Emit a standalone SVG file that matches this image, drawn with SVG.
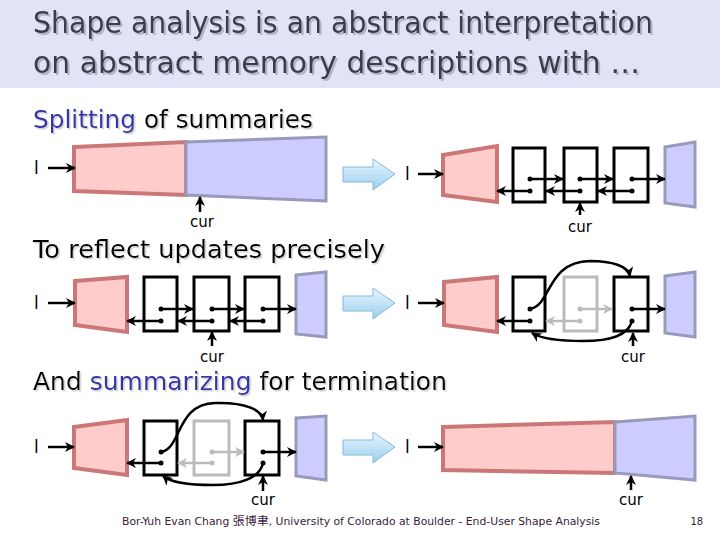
<svg xmlns="http://www.w3.org/2000/svg" width="720" height="540" viewBox="0 0 720 540">
<defs>
<style>
.pink{fill:#ffcccc;stroke:#cc7777;stroke-width:4;stroke-linejoin:miter}
.blue{fill:#ccccff;stroke:#9999bb;stroke-width:3;stroke-linejoin:miter}
.box{fill:none;stroke:#000;stroke-width:3}
.gbox{fill:none;stroke:#bbbbbb;stroke-width:3}
.c{fill:none;stroke:#000;stroke-width:2.5;marker-end:url(#ah)}
.g{fill:none;stroke:#bbbbbb;stroke-width:2.5;marker-end:url(#gh)}
.dot{fill:#000}
.gdot{fill:#bbbbbb}
.lbl{font-family:"DejaVu Sans",sans-serif;font-size:17px;fill:#000}
.cur{font-family:"DejaVu Sans",sans-serif;font-size:15px;fill:#000;text-anchor:middle}
.h{font-family:"DejaVu Sans","Liberation Sans",sans-serif;font-size:24px;fill:#000;filter:url(#hsh)}
.t{font-family:"DejaVu Sans","Liberation Sans",sans-serif;font-size:30px;fill:#3a3a4c;filter:url(#tsh)}
.kw{fill:#3636a6}
.big{fill:url(#bg);stroke:#86b9da;stroke-width:1}
</style>
<filter id="tsh" x="-5%" y="-30%" width="110%" height="160%"><feDropShadow dx="2" dy="2" stdDeviation="0.3" flood-color="#b4b4c6"/></filter>
<filter id="hsh" x="-5%" y="-30%" width="110%" height="160%"><feDropShadow dx="1.5" dy="1.5" stdDeviation="0.3" flood-color="#d0d0d0"/></filter>
<marker id="ah" viewBox="0 0 10 10" refX="9" refY="5" markerWidth="4" markerHeight="4" orient="auto"><path d="M0,0 L10,5 L0,10 L3,5 Z" fill="#000"/></marker>
<marker id="gh" viewBox="0 0 10 10" refX="9" refY="5" markerWidth="4" markerHeight="4" orient="auto"><path d="M0,0 L10,5 L0,10 L3,5 Z" fill="#bbbbbb"/></marker>
<linearGradient id="bg" x1="0" y1="0" x2="0" y2="1"><stop offset="0" stop-color="#e6f6ff"/><stop offset="1" stop-color="#9ccfee"/></linearGradient>
<path id="bigarrow" d="M343,167 L373,167 L373,159 L395,174 L373,190 L373,182 L343,182 Z"/>
</defs>
<rect width="720" height="540" fill="#ffffff"/>
<g id="title">
<rect x="0" y="0" width="720" height="88" fill="#e3e3f7"/>
<text class="t" x="33" y="33" textLength="620" lengthAdjust="spacingAndGlyphs">Shape analysis is an abstract interpretation</text>
<text class="t" x="33" y="73" textLength="607" lengthAdjust="spacingAndGlyphs">on abstract memory descriptions with …</text>
</g>
<g id="headings">
<text class="h" x="33" y="128" textLength="280" lengthAdjust="spacingAndGlyphs"><tspan class="kw">Splitting</tspan> of summaries</text>
<text class="h" x="33" y="258" textLength="352" lengthAdjust="spacingAndGlyphs">To reflect updates precisely</text>
<text class="h" x="33" y="390" textLength="414" lengthAdjust="spacingAndGlyphs">And <tspan class="kw">summarizing</tspan> for termination</text>
</g>

<!-- Row 1 left -->
<g id="r1l-l"><text class="lbl" x="34" y="174">l</text></g>
<g id="r1l-pink"><polygon class="pink" points="74,147 186,142 186,195 74,191"/></g>
<g id="r1l-blue"><polygon class="blue" points="186,142 326,137 326,201 186,195"/></g>
<g id="r1l-cur"><text class="cur" x="202" y="227">cur</text></g>
<g id="r1-bigarrow"><use href="#bigarrow" class="big"/></g>

<!-- Row 1 right -->
<g id="r1r-l"><text class="lbl" x="405" y="180">l</text></g>
<g id="r1r-pink"><polygon class="pink" points="443,155 497,146 497,202 443,195"/></g>
<g id="r1r-box1"><rect class="box" x="513" y="148" width="32" height="54"/><circle class="dot" cx="530" cy="179" r="2.5"/><circle class="dot" cx="530" cy="191" r="2.5"/></g>
<g id="r1r-box2"><rect class="box" x="564" y="148" width="33" height="54"/><circle class="dot" cx="580" cy="179" r="2.5"/><circle class="dot" cx="580" cy="191" r="2.5"/></g>
<g id="r1r-box3"><rect class="box" x="614" y="148" width="34" height="54"/><circle class="dot" cx="632" cy="179" r="2.5"/><circle class="dot" cx="632" cy="191" r="2.5"/></g>
<g id="r1r-blue"><polygon class="blue" points="665,147 695,142 695,207 665,203"/></g>
<g id="r1r-cur"><text class="cur" x="580" y="232">cur</text></g>

<!-- Row 2 left -->
<g id="r2l-l"><text class="lbl" x="34" y="309">l</text></g>
<g id="r2l-pink"><polygon class="pink" points="75,281 127,277 127,332 75,325"/></g>
<g id="r2l-box1"><rect class="box" x="144" y="277" width="33" height="54"/><circle class="dot" cx="161" cy="309" r="2.5"/><circle class="dot" cx="161" cy="321" r="2.5"/></g>
<g id="r2l-box2"><rect class="box" x="194" y="277" width="35" height="54"/><circle class="dot" cx="212" cy="309" r="2.5"/><circle class="dot" cx="212" cy="321" r="2.5"/></g>
<g id="r2l-box3"><rect class="box" x="245" y="277" width="34" height="54"/><circle class="dot" cx="263" cy="309" r="2.5"/><circle class="dot" cx="263" cy="321" r="2.5"/></g>
<g id="r2l-blue"><polygon class="blue" points="296,275 326,272 326,337 296,334"/></g>
<g id="r2l-cur"><text class="cur" x="212" y="362">cur</text></g>
<g id="r2-bigarrow"><use href="#bigarrow" class="big" transform="translate(0,129)"/></g>

<!-- Row 2 right -->
<g id="r2r-l"><text class="lbl" x="405" y="309">l</text></g>
<g id="r2r-pink"><polygon class="pink" points="444,282 497,277 497,332 444,325"/></g>
<g id="r2r-box1"><rect class="box" x="513" y="277" width="32" height="54"/><circle class="dot" cx="530" cy="309" r="2.5"/><circle class="dot" cx="530" cy="321" r="2.5"/></g>
<g id="r2r-box2"><rect class="gbox" x="564" y="277" width="33" height="54"/><circle class="gdot" cx="580" cy="309" r="2.5"/><circle class="gdot" cx="580" cy="321" r="2.5"/></g>
<g id="r2r-box3"><rect class="box" x="614" y="277" width="34" height="54"/><circle class="dot" cx="632" cy="309" r="2.5"/><circle class="dot" cx="632" cy="321" r="2.5"/></g>
<g id="r2r-blue"><polygon class="blue" points="665,276 695,272 695,337 665,333"/></g>
<g id="r2r-cur"><text class="cur" x="633" y="362">cur</text></g>

<!-- Row 3 left -->
<g id="r3l-l"><text class="lbl" x="34" y="453">l</text></g>
<g id="r3l-pink"><polygon class="pink" points="74,427 127,420 127,475 74,468"/></g>
<g id="r3l-box1"><rect class="box" x="144" y="421" width="33" height="54"/><circle class="dot" cx="161" cy="452" r="2.5"/><circle class="dot" cx="161" cy="463" r="2.5"/></g>
<g id="r3l-box2"><rect class="gbox" x="194" y="421" width="35" height="54"/><circle class="gdot" cx="212" cy="452" r="2.5"/><circle class="gdot" cx="212" cy="463" r="2.5"/></g>
<g id="r3l-box3"><rect class="box" x="245" y="421" width="34" height="54"/><circle class="dot" cx="263" cy="452" r="2.5"/><circle class="dot" cx="263" cy="463" r="2.5"/></g>
<g id="r3l-blue"><polygon class="blue" points="296,418 326,416 326,480 296,476"/></g>
<g id="r3l-cur"><text class="cur" x="263" y="505">cur</text></g>
<g id="r3-bigarrow"><use href="#bigarrow" class="big" transform="translate(0,273)"/></g>

<!-- Row 3 right -->
<g id="r3r-l"><text class="lbl" x="405" y="453">l</text></g>
<g id="r3r-pink"><polygon class="pink" points="443,427 615,422 615,473 443,470"/></g>
<g id="r3r-blue"><polygon class="blue" points="615,422 695,416 695,480 615,473"/></g>
<g id="r3r-cur"><text class="cur" x="631" y="505">cur</text></g>

<g id="connectors">
<line class="c" x1="48" y1="168" x2="75" y2="168"/>
<line class="c" x1="200" y1="212" x2="200" y2="197"/>
<line class="c" x1="418" y1="174" x2="443" y2="174"/>
<line class="c" x1="530" y1="179" x2="563" y2="179"/>
<line class="c" x1="580" y1="179" x2="613" y2="179"/>
<line class="c" x1="632" y1="179" x2="665" y2="179"/>
<line class="c" x1="530" y1="191" x2="497" y2="191"/>
<line class="c" x1="580" y1="191" x2="546" y2="191"/>
<line class="c" x1="632" y1="191" x2="598" y2="191"/>
<line class="c" x1="580" y1="215" x2="580" y2="203"/>
<line class="c" x1="48" y1="303" x2="75" y2="303"/>
<line class="c" x1="161" y1="309" x2="193" y2="309"/>
<line class="c" x1="212" y1="309" x2="244" y2="309"/>
<line class="c" x1="263" y1="309" x2="296" y2="309"/>
<line class="c" x1="161" y1="321" x2="127" y2="321"/>
<line class="c" x1="212" y1="321" x2="178" y2="321"/>
<line class="c" x1="263" y1="321" x2="230" y2="321"/>
<line class="c" x1="212" y1="346" x2="212" y2="332"/>
<line class="c" x1="418" y1="303" x2="444" y2="303"/>
<line class="c" x1="530" y1="321" x2="497" y2="321"/>
<line class="g" x1="580" y1="309" x2="612" y2="309"/>
<line class="g" x1="580" y1="321" x2="546" y2="321"/>
<line class="c" x1="632" y1="309" x2="665" y2="309"/>
<path class="c" d="M530,309 C552,305 546,262 590,261 C612,261 628,266 630,276"/>
<path class="c" d="M632,321 C628,336 610,341 583,341 C558,341 540,338 532,333"/>
<line class="c" x1="633" y1="346" x2="633" y2="333"/>
<line class="c" x1="48" y1="447" x2="74" y2="447"/>
<line class="c" x1="161" y1="463" x2="127" y2="463"/>
<line class="g" x1="212" y1="452" x2="244" y2="452"/>
<line class="g" x1="212" y1="463" x2="178" y2="463"/>
<line class="c" x1="263" y1="452" x2="296" y2="452"/>
<path class="c" d="M161,452 C182,448 176,404 215,403 C245,402 262,410 263,420"/>
<path class="c" d="M263,463 C260,478 240,485 213,485 C190,485 170,482 163,476"/>
<line class="c" x1="263" y1="491" x2="263" y2="476"/>
<line class="c" x1="418" y1="447" x2="443" y2="447"/>
<line class="c" x1="631" y1="490" x2="631" y2="476"/>
</g>

<g id="footer">
<text x="122" y="525" font-family="DejaVu Sans Condensed,DejaVu Sans,'Noto Sans CJK TC',sans-serif" font-size="11" fill="#3a1a3a" textLength="478" lengthAdjust="spacingAndGlyphs">Bor-Yuh Evan Chang 張博聿, University of Colorado at Boulder - End-User Shape Analysis</text>
<text x="703" y="525" font-family="DejaVu Sans Condensed,DejaVu Sans,sans-serif" font-size="11" fill="#3a1a3a" text-anchor="end">18</text>
</g>
</svg>
